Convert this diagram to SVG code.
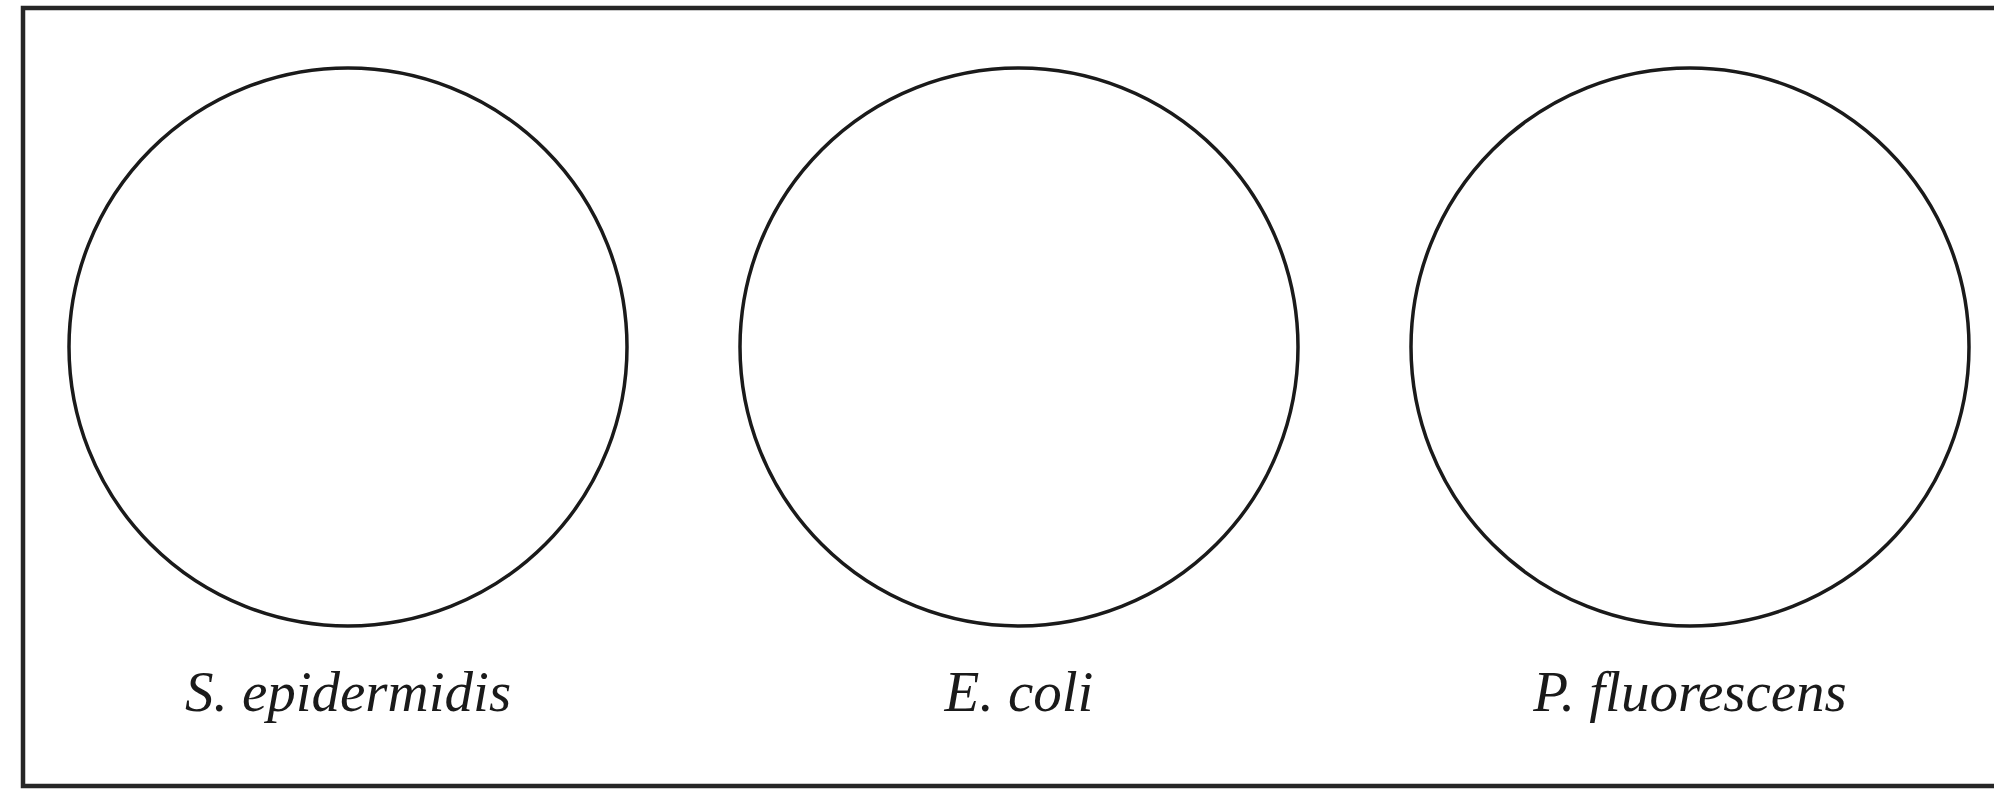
<svg xmlns="http://www.w3.org/2000/svg" width="1994" height="789" viewBox="0 0 1994 789">
<style>
.frame{fill:none;stroke:#262626;stroke-width:4.5}
.plate{fill:none;stroke:#1a1a1a;stroke-width:3.5}
.lbl{font-family:"Liberation Serif","Times New Roman",serif;font-style:italic;font-size:57px;fill:#1a1a1a;text-anchor:middle}
</style>
<rect width="1994" height="789" fill="#ffffff"/>
<rect class="frame" x="23" y="8" width="1990" height="778"/>
<g id="plate-s-epidermidis">
<circle class="plate" cx="348" cy="347" r="279"/>
<text class="lbl" x="348" y="711">S. epidermidis</text>
</g>
<g id="plate-e-coli">
<circle class="plate" cx="1019" cy="347" r="279"/>
<text class="lbl" x="1019" y="711">E. coli</text>
</g>
<g id="plate-p-fluorescens">
<circle class="plate" cx="1690" cy="347" r="279"/>
<text class="lbl" x="1690" y="711">P. fluorescens</text>
</g>
<g id="connectors"/>
</svg>
